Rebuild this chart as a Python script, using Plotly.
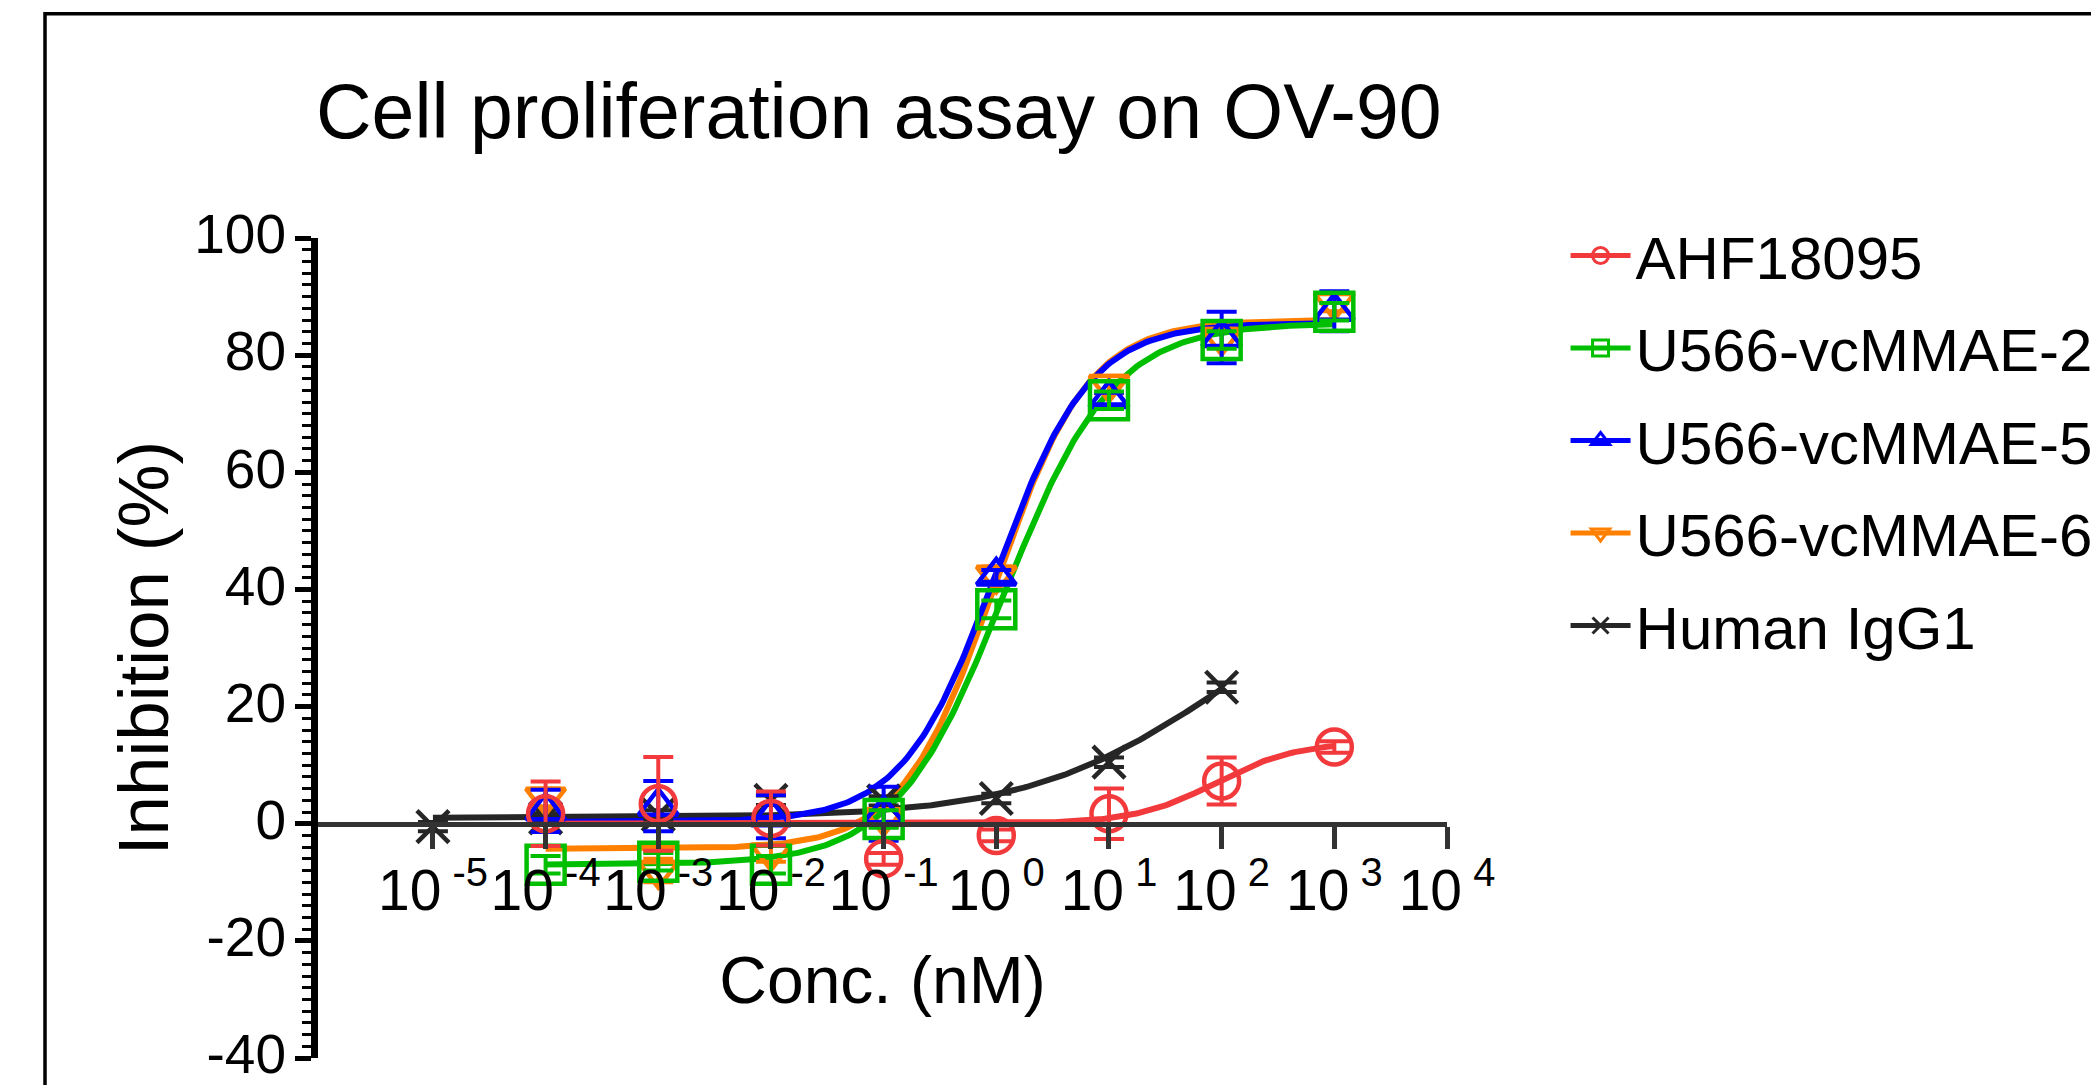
import numpy as np
import plotly.graph_objects as go

# ---------------- data ----------------
conc_adc = [1e-4, 1e-3, 1e-2, 1e-1, 1e0, 1e1, 1e2, 1e3]
conc_igg = [1e-5, 1e-4, 1e-3, 1e-2, 1e-1, 1e0, 1e1, 1e2]

series_names = ["AHF18095", "U566-vcMMAE-2", "U566-vcMMAE-5", "U566-vcMMAE-6", "Human IgG1"]

ahf_mean = [1.7, 3.4, 0.9, -6.0, -2.0, 1.7, 7.3, 13.1]
ahf_err = [5.5, 8.0, 4.6, 1.0, 1.0, 4.3, 4.0, 1.0]
u2_mean = [-7.0, -6.5, -7.0, 0.8, 36.6, 72.3, 82.6, 87.4]
u2_err = [1.5, 1.5, 1.5, 1.5, 1.5, 1.5, 1.5, 1.5]
u5_mean = [2.2, 3.0, 1.2, 1.7, 42.3, 72.6, 83.0, 87.5]
u5_err = [3.6, 4.3, 3.7, 4.6, 1.0, 1.0, 4.4, 3.4]
u6_mean = [4.5, -8.0, -5.0, 1.0, 42.4, 75.0, 83.0, 89.0]
u6_err = [1.5, 2.0, 1.5, 1.5, 1.5, 1.5, 1.5, 1.5]
igg_mean = [-0.5, 1.0, 1.5, 4.0, 3.9, 4.3, 10.5, 23.3]
igg_err = [0.8, 0.8, 0.8, 0.8, 0.8, 0.8, 0.8, 0.8]

# four-parameter logistic fit parameters (estimated from the drawn curves)
fit_bottom = [0.0, -7.0, 0.3, -4.3, 1.0]
fit_top = [14.0, 85.5, 85.5, 86.0, 45.0]
fit_logec50 = [1.95, 0.07, 0.0, -0.01, 2.0]
fit_hill = [1.2, 0.9, 1.05, 1.05, 0.5]

x_tick_vals = [1e-5, 1e-4, 1e-3, 1e-2, 1e-1, 1e0, 1e1, 1e2, 1e3, 1e4]
x_tick_text = ["10<sup> -5</sup>", "10<sup> -4</sup>", "10<sup> -3</sup>", "10<sup> -2</sup>",
               "10<sup> -1</sup>", "10<sup> 0</sup>", "10<sup> 1</sup>", "10<sup> 2</sup>",
               "10<sup> 3</sup>", "10<sup> 4</sup>"]
y_tick_vals = [-40, -20, 0, 20, 40, 60, 80, 100]
y_tick_text = ["-40", "-20", "0", "20", "40", "60", "80", "100"]

# ---------------- styles ----------------
colors = ["#F2393C", "#00BE00", "#0000FF", "#FF8000", "#262626"]
symbols = ["circle-open", "square-open", "triangle-up-open", "triangle-down-open", "x-thin-open"]
msizes = [35, 38, 34, 34, 32]

means = [ahf_mean, u2_mean, u5_mean, u6_mean, igg_mean]
errs = [ahf_err, u2_err, u5_err, u6_err, igg_err]
concs = [conc_adc, conc_adc, conc_adc, conc_adc, conc_igg]

FONT = "Liberation Sans, Arial, Helvetica, sans-serif"
PLOT_TOP, PLOT_BOTTOM = 237.5, 1058.0
PLOT_H = PLOT_BOTTOM - PLOT_TOP

fig = go.Figure()

draw_order = [4, 3, 2, 1, 0]
for i in draw_order:
    lo = np.log10(concs[i][0])
    hi = np.log10(concs[i][-1])
    xc = np.logspace(lo, hi, 300)
    yc = fit_bottom[i] + (fit_top[i] - fit_bottom[i]) / (1 + 10 ** ((fit_logec50[i] - np.log10(xc)) * fit_hill[i]))
    fig.add_trace(go.Scatter(x=xc, y=yc, mode="lines", line=dict(color=colors[i], width=6),
                             showlegend=False, hoverinfo="skip"))
for i in draw_order:
    fig.add_trace(go.Scatter(
        x=concs[i], y=means[i], mode="markers", showlegend=False,
        marker=dict(symbol=symbols[i], size=msizes[i], color=colors[i],
                    line=dict(color=colors[i], width=4.5)),
        error_y=dict(type="data", array=errs[i], visible=True, color=colors[i],
                     thickness=4, width=15),
    ))

# legend entries
for i in range(5):
    fig.add_trace(go.Scatter(
        x=[None], y=[None], mode="lines+markers", name=series_names[i],
        legendgroup=series_names[i],
        line=dict(color=colors[i], width=5),
        marker=dict(symbol=symbols[i], size=msizes[i], color=colors[i],
                    line=dict(color=colors[i], width=3)),
    ))

fig.update_layout(
    width=2091, height=1085,
    margin=dict(l=318, r=644, t=PLOT_TOP, b=1085 - PLOT_BOTTOM, autoexpand=False),
    paper_bgcolor="white", plot_bgcolor="white",
    font=dict(family=FONT, color="black"),
    title=dict(text="Cell proliferation assay on OV-90", x=316 / 2091, xanchor="left",
               xref="container", y=1 - 111 / 1085, yanchor="middle",
               font=dict(size=77, family=FONT, color="black")),
    legend=dict(x=1.105, y=1 + (PLOT_TOP - 209.5) / PLOT_H, xanchor="left", yanchor="top",
                font=dict(size=60),
                traceorder="grouped", tracegroupgap=11.5, itemwidth=60,
                bgcolor="rgba(0,0,0,0)"),
    showlegend=True,
)

fig.update_xaxes(
    type="log", range=[-6.02, 4.0], anchor="free", position=40 / 140,
    showline=True, linecolor="#333333", linewidth=5,
    ticks="outside", ticklen=22, tickwidth=5, tickcolor="#333333",
    tickvals=x_tick_vals, ticktext=x_tick_text, ticklabelstandoff=-7,
    tickfont=dict(size=57, family=FONT, color="black"),
    showgrid=False, zeroline=False,
    title=dict(text="Conc. (nM)", font=dict(size=66, family=FONT, color="black"), standoff=35),
)
fig.update_yaxes(
    range=[-40, 100], tickvals=y_tick_vals, ticktext=y_tick_text,
    ticklabeloverflow="allow", ticklabelstandoff=-2, ticklabelshift=-4,
    showline=True, linecolor="black", linewidth=7,
    ticks="outside", ticklen=16, tickwidth=5, tickcolor="black",
    minor=dict(dtick=2, ticklen=9, tickwidth=3, tickcolor="black", ticks="outside"),
    tickfont=dict(size=55, family=FONT, color="black"),
    showgrid=False, zeroline=False,
    title=dict(text="Inhibition (%)", font=dict(size=71, family=FONT, color="black"), standoff=5),
)

# image frame
fig.add_shape(type="rect", xref="paper", yref="paper",
              x0=(45 - 318) / 1129, x1=2.2, y0=-0.3, y1=(PLOT_BOTTOM - 13) / PLOT_H,
              line=dict(color="black", width=3.5), fillcolor="rgba(0,0,0,0)", layer="below")

fig.write_html("out.html", config={"displayModeBar": False},
               post_script="document.body.style.margin='0';document.body.style.overflow='hidden';")
